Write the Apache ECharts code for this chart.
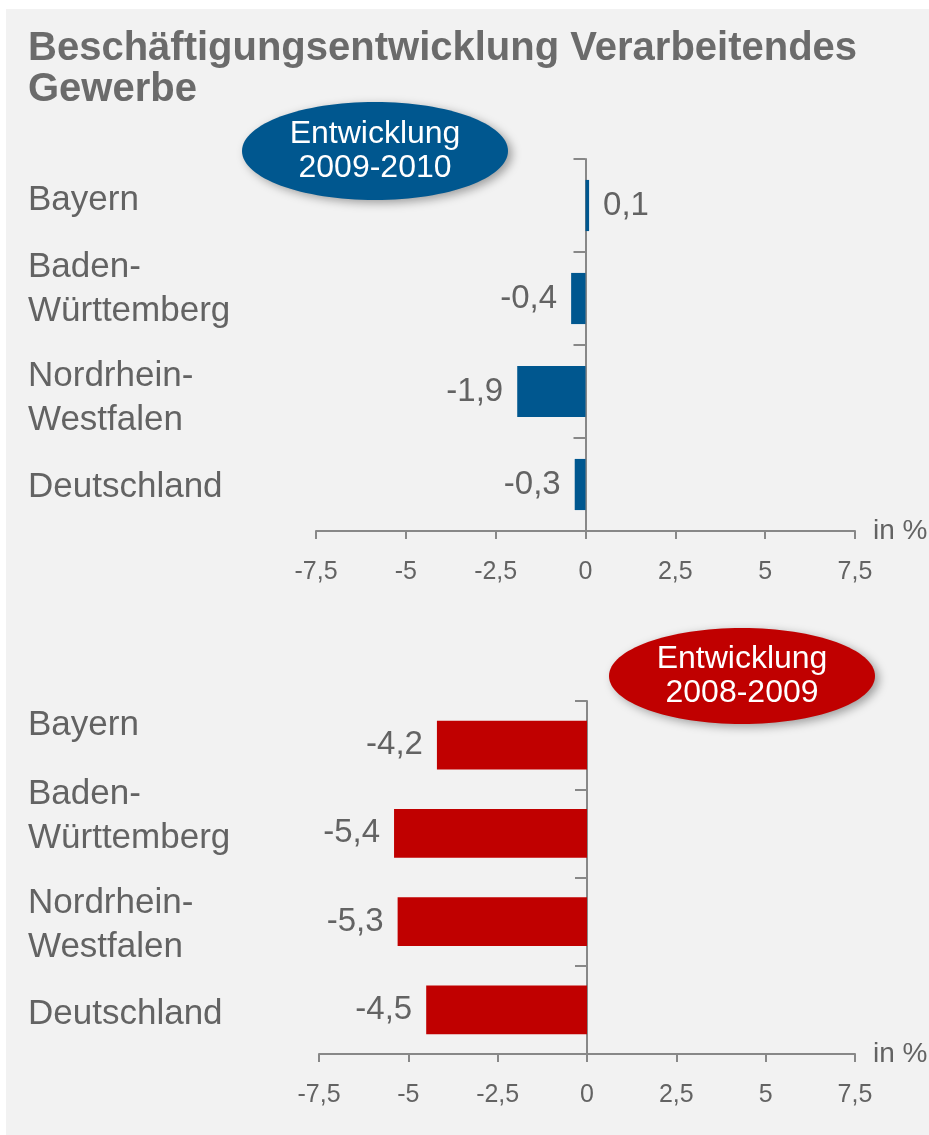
<!DOCTYPE html>
<html>
<head>
<meta charset="utf-8">
<script src="https://cdn.jsdelivr.net/npm/echarts@6/dist/echarts.min.js"></script>
<style>
  html, body { margin: 0; padding: 0; background: #ffffff; }
  #myChart { width: 929px; height: 1135px; }
</style>
</head>
<body>
<div id="myChart"></div>
<script>
// Daten
var regionen = ['Bayern', 'Baden-\nWürttemberg', 'Nordrhein-\nWestfalen', 'Deutschland']
var werte0910 = [0.1, -0.4, -1.9, -0.3]
var werte0809 = [-4.2, -5.4, -5.3, -4.5]
var achsenMin = -7.5
var achsenMax = 7.5
var achsenSchritt = 2.5

// Layout: Textfelder im Original sind etwas verschoben (px, negativ = nach oben)
var versatzOben = [-5, -9, 7, 3]
var versatzUnten = [-20, -17, 4, 4]

var grau = '#636363'
var achsenGrau = '#888888'
var font = 'Liberation Sans, Arial, sans-serif'

function komma(v) {
  return String(v).replace('.', ',')
}

function xAchse(gridIndex) {
  return {
    type: 'value',
    gridIndex: gridIndex,
    min: achsenMin,
    max: achsenMax,
    interval: achsenSchritt,
    name: 'in %',
    nameLocation: 'end',
    nameGap: 18,
    nameTextStyle: { color: grau, fontSize: 28, fontFamily: font, align: 'left', verticalAlign: 'middle' },
    splitLine: { show: false },
    axisLine: { show: true, lineStyle: { color: achsenGrau, width: 2 } },
    axisTick: { show: true, length: 8, lineStyle: { color: achsenGrau, width: 2 } },
    axisLabel: { color: grau, fontSize: 25, fontFamily: font, margin: 29, formatter: komma }
  }
}

// labels sitzen am linken Rand des Grids, nicht an der Null-Achse
// leere Zeile ober-/unterhalb schiebt den Text nach unten/oben
function yAchse(gridIndex, abstand, versatz) {
  var rich = {}
  versatz.forEach(function (d) {
    var h = Math.abs(2 * d)
    if (h) rich['s' + h] = { fontSize: 1, lineHeight: h, height: h }
  })
  return {
    type: 'category',
    gridIndex: gridIndex,
    data: regionen,
    inverse: true,
    axisLine: { show: true, onZero: true, lineStyle: { color: achsenGrau, width: 2 } },
    axisTick: { show: true, length: 12, lineStyle: { color: achsenGrau, width: 2 } },
    axisLabel: {
      interval: 0,
      color: grau, fontSize: 35, fontFamily: font, lineHeight: 44,
      align: 'left', margin: abstand,
      rich: rich,
      formatter: function (value, index) {
        var d = versatz[index]
        if (!d) return value
        var leer = '{s' + Math.abs(2 * d) + '| }'
        return d < 0 ? value + '\n' + leer : leer + '\n' + value
      }
    }
  }
}

function balken(werte, farbe, idx) {
  return {
    type: 'bar',
    xAxisIndex: idx,
    yAxisIndex: idx,
    barWidth: '55%',
    data: werte.map(function (v) {
      return {
        value: v,
        label: { position: v < 0 ? 'left' : 'right' }
      }
    }),
    itemStyle: { color: farbe },
    label: {
      show: true,
      distance: 14,
      color: grau,
      fontSize: 33,
      fontFamily: font,
      formatter: function (p) { return komma(p.value) }
    }
  }
}

var myChart = echarts.init(document.getElementById('myChart'))
myChart.setOption({
  animation: false,
  backgroundColor: '#ffffff',
  title: {
    text: 'Beschäftigungsentwicklung Verarbeitendes\nGewerbe',
    left: 28,
    top: 28,
    padding: 0,
    textStyle: { color: '#6b6b6b', fontSize: 40, fontWeight: 'bold', fontFamily: font, lineHeight: 41 }
  },
  grid: [
    { left: 316, top: 159, width: 539, height: 372, containLabel: false, outerBoundsMode: 'none' },
    { left: 319, top: 701, width: 536, height: 353, containLabel: false, outerBoundsMode: 'none' }
  ],
  xAxis: [xAchse(0), xAchse(1)],
  yAxis: [yAchse(0, 288, versatzOben), yAchse(1, 291, versatzUnten)],
  series: [
    balken(werte0910, '#00578f', 0),
    balken(werte0809, '#c00000', 1)
  ],
  graphic: [
    {
      type: 'rect', z: -10, silent: true,
      shape: { x: 6, y: 9, width: 923, height: 1126 },
      style: { fill: '#f2f2f2' }
    },
    {
      type: 'ellipse', z: 10,
      shape: { cx: 375, cy: 151, rx: 133, ry: 49 },
      style: { fill: '#00578f', shadowBlur: 10, shadowOffsetX: 4, shadowOffsetY: 3, shadowColor: 'rgba(0,0,0,0.35)' }
    },
    {
      type: 'text', z: 11, x: 375, y: 151,
      style: { text: 'Entwicklung\n2009-2010', fill: '#ffffff', font: '32px Liberation Sans, Arial, sans-serif', lineHeight: 34, align: 'center', verticalAlign: 'middle' }
    },
    {
      type: 'ellipse', z: 10,
      shape: { cx: 742, cy: 676, rx: 133, ry: 48 },
      style: { fill: '#c00000', shadowBlur: 10, shadowOffsetX: 4, shadowOffsetY: 3, shadowColor: 'rgba(0,0,0,0.35)' }
    },
    {
      type: 'text', z: 11, x: 742, y: 676,
      style: { text: 'Entwicklung\n2008-2009', fill: '#ffffff', font: '32px Liberation Sans, Arial, sans-serif', lineHeight: 34, align: 'center', verticalAlign: 'middle' }
    }
  ]
})
</script>
</body>
</html>
